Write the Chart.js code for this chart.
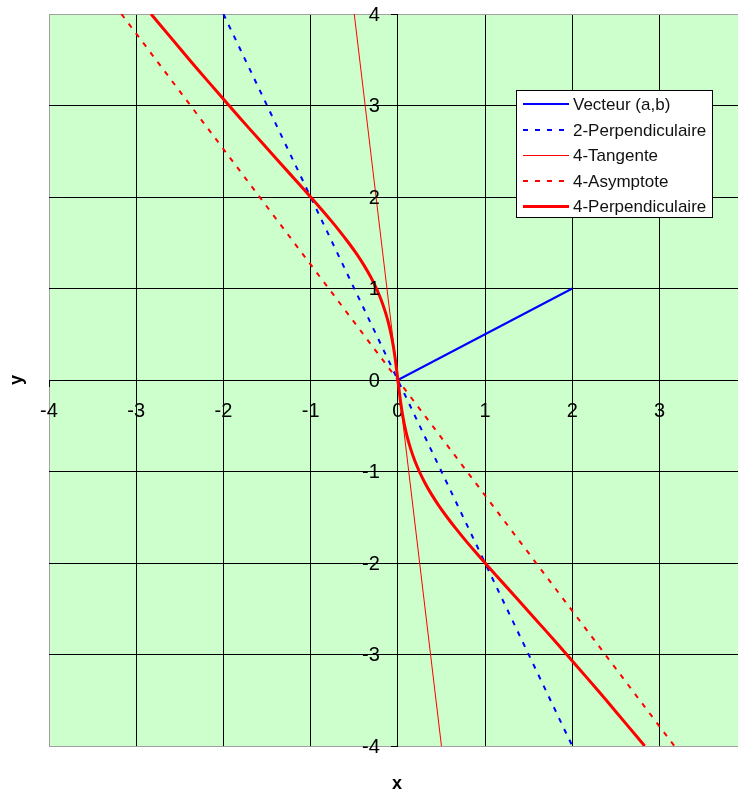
<!DOCTYPE html>
<html>
<head>
<meta charset="utf-8">
<script src="https://cdn.jsdelivr.net/npm/chart.js@4.4.1/dist/chart.umd.min.js"></script>
<style>
body { margin: 0; background: #fff; }
</style>
</head>
<body>
<canvas id="chart" width="738" height="793"></canvas>
<script>
const xTicks = [-4, -3, -2, -1, 0, 1, 2, 3]
const yTicks = [-4, -3, -2, -1, 0, 1, 2, 3, 4]

// vector (a,b) and the lines derived from it
const vecteurX = [0, 2]
const vecteurY = [0, 1]
const perp2X = [-2, 2]
const perp2Y = [4, -4]
const tangenteX = [-0.5, 0.5]
const tangenteY = [4, -4]
const asymptoteX = [-3.17, 3.17]
const asymptoteY = [4, -4]

// 4-perpendicular curve
const perp4X = [-2.83, -2.61, -2.39, -2.164, -1.936, -1.705, -1.47, -1.235, -1, -0.885, -0.773, -0.666, -0.565, -0.471, -0.386, -0.311,
                -0.246, -0.191, -0.146, -0.108, -0.078, -0.053, -0.033, -0.016, 0,
                0.016, 0.033, 0.053, 0.078, 0.108, 0.146, 0.191, 0.246, 0.311, 0.386, 0.471, 0.565, 0.666, 0.773, 0.885,
                1, 1.235, 1.47, 1.705, 1.936, 2.164, 2.39, 2.61, 2.83]
const perp4Y = [4, 3.75, 3.5, 3.25, 3, 2.75, 2.5, 2.25, 2, 1.875, 1.75, 1.625, 1.5, 1.375, 1.25, 1.125,
                1, 0.875, 0.75, 0.625, 0.5, 0.375, 0.25, 0.125, 0,
                -0.125, -0.25, -0.375, -0.5, -0.625, -0.75, -0.875, -1, -1.125, -1.25, -1.375, -1.5, -1.625, -1.75, -1.875,
                -2, -2.25, -2.5, -2.75, -3, -3.25, -3.5, -3.75, -4]

const tickFont = '20px "Liberation Sans", Arial, sans-serif'

function toPoints(xs, ys) {
    return xs.map((x, i) => ({ x: x, y: ys[i] }))
}

const plotBackground = {
    id: 'plotBackground',
    beforeDraw(chart) {
        const a = chart.chartArea
        const ctx = chart.ctx
        ctx.save()
        ctx.fillStyle = '#CCFFCC'
        ctx.fillRect(a.left, a.top, a.right - a.left, a.bottom - a.top)
        ctx.restore()
    }
}

// y labels sit left of the x=0 axis, Excel style
const yLabels = {
    id: 'yLabels',
    afterDraw(chart) {
        const ctx = chart.ctx
        const xs = chart.scales.x
        const ys = chart.scales.y
        const x0 = xs.getPixelForValue(0) - 18
        ctx.save()
        ctx.fillStyle = '#000'
        ctx.font = tickFont
        ctx.textAlign = 'right'
        ctx.textBaseline = 'middle'
        yTicks.forEach(v => {
            ctx.fillText(String(v), x0, ys.getPixelForValue(v) + 1)
        })
        ctx.restore()
    }
}

const boxLegend = {
    id: 'boxLegend',
    afterDraw(chart) {
        const ctx = chart.ctx
        ctx.save()
        ctx.fillStyle = '#fff'
        ctx.fillRect(516.5, 90.5, 196, 127)
        ctx.strokeStyle = '#000'
        ctx.lineWidth = 1
        ctx.strokeRect(516.5, 90.5, 196, 127)
        ctx.font = '17px "Liberation Sans", Arial, sans-serif'
        ctx.textBaseline = 'middle'
        chart.data.datasets.forEach((ds, i) => {
            const y = Math.round(104 + i * 25.6) + (ds.borderWidth % 2 ? 0.5 : 0)
            ctx.beginPath()
            ctx.strokeStyle = ds.borderColor
            ctx.lineWidth = ds.borderWidth
            ctx.setLineDash(ds.borderDash || [])
            ctx.moveTo(523, y)
            ctx.lineTo(569, y)
            ctx.stroke()
            ctx.setLineDash([])
            ctx.fillStyle = '#111'
            ctx.fillText(ds.label, 573, y + 1)
        })
        ctx.restore()
    }
}

const axisTitles = {
    id: 'axisTitles',
    afterDraw(chart) {
        const ctx = chart.ctx
        ctx.save()
        ctx.fillStyle = '#000'
        ctx.font = 'bold 18px "Liberation Sans", Arial, sans-serif'
        ctx.textAlign = 'center'
        ctx.textBaseline = 'middle'
        ctx.fillText('x', 397, 784)
        ctx.translate(17, 380)
        ctx.rotate(-Math.PI / 2)
        ctx.fillText('y', 0, 0)
        ctx.restore()
    }
}

const edgeColor = v => (v === -4 || v === 4) ? '#A0A0A0' : '#000'

new Chart(document.getElementById('chart'), {
    type: 'scatter',
    data: {
        datasets: [
            {
                label: 'Vecteur (a,b)',
                data: toPoints(vecteurX, vecteurY),
                borderColor: '#0000FF',
                borderWidth: 2,
                order: 5
            },
            {
                label: '2-Perpendiculaire',
                data: toPoints(perp2X, perp2Y),
                borderColor: '#0000FF',
                borderWidth: 2,
                borderDash: [5, 7],
                order: 4
            },
            {
                label: '4-Tangente',
                data: toPoints(tangenteX, tangenteY),
                borderColor: '#FF0000',
                borderWidth: 1,
                order: 3
            },
            {
                label: '4-Asymptote',
                data: toPoints(asymptoteX, asymptoteY),
                borderColor: '#FF0000',
                borderWidth: 2,
                borderDash: [5, 7],
                order: 2
            },
            {
                label: '4-Perpendiculaire',
                data: toPoints(perp4X, perp4Y),
                borderColor: '#FF0000',
                borderWidth: 3,
                tension: 0.3,
                order: 1
            }
        ]
    },
    options: {
        responsive: false,
        animation: false,
        devicePixelRatio: 1,
        showLine: true,
        elements: {
            point: { radius: 0, hoverRadius: 0 },
            line: { tension: 0, fill: false }
        },
        layout: {
            padding: { left: 49, top: 14, right: 0, bottom: 47 }
        },
        plugins: {
            legend: { display: false },
            tooltip: { enabled: false }
        },
        scales: {
            x: {
                type: 'linear',
                position: { y: 0 },
                min: -4,
                max: 3.9,
                afterBuildTicks: scale => { scale.ticks = xTicks.map(v => ({ value: v })) },
                grid: {
                    color: ctx => edgeColor(ctx.tick.value),
                    lineWidth: 1,
                    tickLength: 6,
                    tickColor: '#000'
                },
                border: { color: '#000', width: 1 },
                ticks: {
                    padding: 13,
                    maxRotation: 0,
                    color: '#000',
                    font: { family: '"Liberation Sans", Arial, sans-serif', size: 20 }
                }
            },
            y: {
                type: 'linear',
                position: { x: 0 },
                min: -4,
                max: 4,
                afterBuildTicks: scale => { scale.ticks = yTicks.map(v => ({ value: v })) },
                grid: {
                    color: ctx => edgeColor(ctx.tick.value),
                    lineWidth: 1,
                    tickLength: 6,
                    tickColor: '#000'
                },
                border: { color: '#000', width: 1 },
                ticks: { display: false }
            }
        }
    },
    plugins: [plotBackground, yLabels, boxLegend, axisTitles]
})
</script>
</body>
</html>
